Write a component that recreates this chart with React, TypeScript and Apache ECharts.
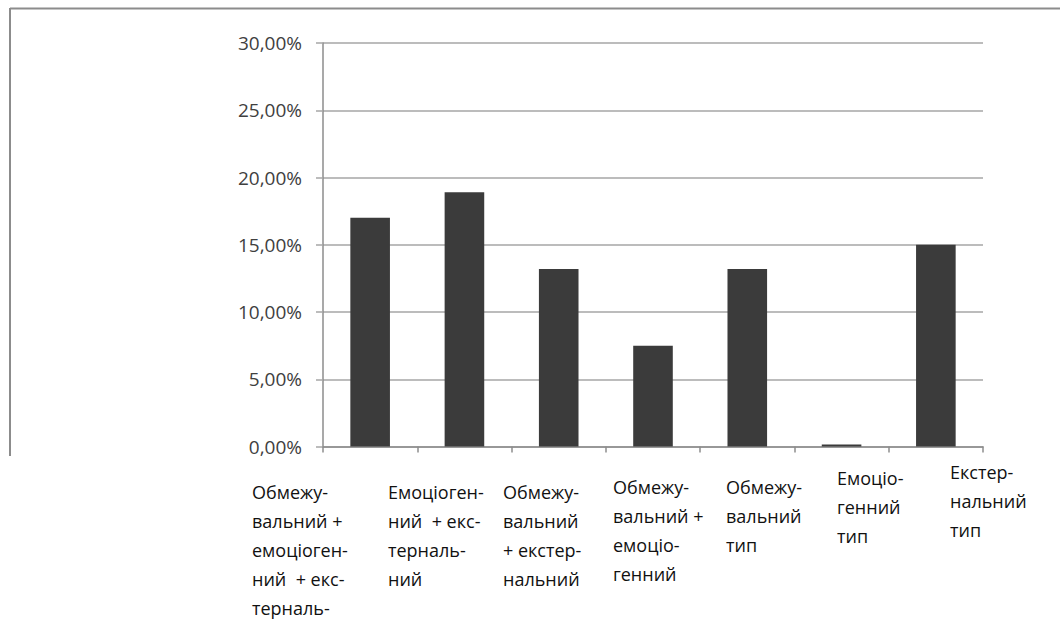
import React, { useEffect, useRef } from "react";
import * as echarts from "echarts";

// Coping-type combinations shown along the horizontal axis
const categories = [
  "Обмежу-\nвальний +\nемоціоген-\nний  + екс-\nтерналь-",
  "Емоціоген-\nний  + екс-\nтерналь-\nний",
  "Обмежу-\nвальний\n+ екстер-\nнальний",
  "Обмежу-\nвальний +\nемоціо-\nгенний",
  "Обмежу-\nвальний\nтип",
  "Емоціо-\nгенний\nтип",
  "Екстер-\nнальний\nтип",
];

// Share of respondents per type, percent
const shares = [17.0, 18.9, 13.2, 7.5, 13.2, 0.15, 15.0];

// Value axis range and step, percent
const yMin = 0;
const yMax = 30;
const yStep = 5;

// Where each category caption starts (left edge, centre of first line)
const captionAnchors: [number, number][] = [
  [252, 492],
  [388, 492],
  [503, 492],
  [613, 487],
  [726, 487],
  [837, 478],
  [950, 472],
];

const FONT = '"Open Sans", "Noto Sans", "DejaVu Sans", sans-serif';
const LINE_H = 29;

export default function App() {
  const ref = useRef<HTMLDivElement>(null);

  useEffect(() => {
    if (!ref.current) return;
    const chart = echarts.init(ref.current, undefined, { renderer: "svg" });

    const captions = categories.map((text, i) => ({
      type: "text",
      x: captionAnchors[i][0],
      y: captionAnchors[i][1] - LINE_H / 2,
      silent: true,
      style: {
        text,
        fill: "#111111",
        font: `18px ${FONT}`,
        lineHeight: LINE_H,
        align: "left",
        verticalAlign: "top",
      },
    }));

    chart.setOption({
      animation: false,
      backgroundColor: "#ffffff",
      grid: {
        left: 323,
        right: 77,
        top: 43,
        bottom: 172.5,
        outerBoundsMode: "none",
      },
      xAxis: {
        type: "category",
        data: categories,
        boundaryGap: true,
        axisLine: { show: true, lineStyle: { color: "#8c8c8c", width: 1.5 } },
        axisTick: {
          show: true,
          alignWithLabel: false,
          length: 6,
          lineStyle: { color: "#8c8c8c", width: 1.5 },
        },
        axisLabel: { show: false },
        splitLine: { show: false },
      },
      yAxis: {
        type: "value",
        min: yMin,
        max: yMax,
        interval: yStep,
        axisLine: { show: true, lineStyle: { color: "#8c8c8c", width: 1.5 } },
        axisTick: {
          show: true,
          inside: false,
          length: 7,
          lineStyle: { color: "#a6a6a6", width: 1.5 },
        },
        axisLabel: {
          margin: 21,
          color: "#404040",
          fontFamily: FONT,
          fontSize: 19,
          formatter: (v: number) => v.toFixed(2).replace(".", ",") + "%",
        },
        splitLine: { show: true, lineStyle: { color: "#a6a6a6", width: 1.5 } },
      },
      series: [
        {
          type: "bar",
          data: shares,
          barCategoryGap: "58%",
          itemStyle: { color: "#3b3b3b" },
          silent: true,
        },
      ],
      graphic: [
        // frame edges around the chart area
        {
          type: "line",
          shape: { x1: 10, y1: 8.5, x2: 1060, y2: 8.5 },
          style: { stroke: "#8c8c8c", lineWidth: 2 },
          silent: true,
        },
        {
          type: "line",
          shape: { x1: 10, y1: 8, x2: 10, y2: 456 },
          style: { stroke: "#8c8c8c", lineWidth: 2 },
          silent: true,
        },
        ...captions,
      ],
    });

    return () => chart.dispose();
  }, []);

  return (
    <div
      ref={ref}
      style={{
        position: "fixed",
        left: 0,
        top: 0,
        width: 1060,
        height: 619,
        background: "#ffffff",
      }}
    />
  );
}
